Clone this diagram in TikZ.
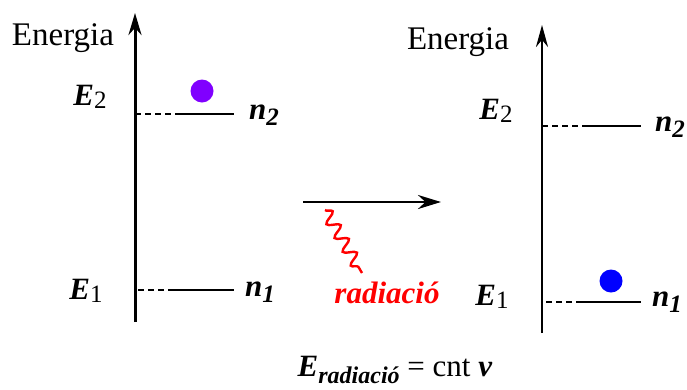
\documentclass[tikz,border=0pt]{standalone}
\usepackage{fontspec}
\setmainfont{Liberation Serif}
\usetikzlibrary{arrows.meta,decorations.pathmorphing}
\definecolor{dotpurple}{RGB}{128,0,255}
\definecolor{dotblue}{RGB}{0,0,255}
\tikzset{
  axis/.style={line width=3pt,-{Stealth[length=22pt,width=13pt]}},
  axisR/.style={line width=2.6pt,-{Stealth[length=22pt,width=12pt]}},
  lvl/.style={line width=1.6pt},
  lvldash/.style={line width=1.6pt,dash pattern=on 6pt off 4pt},
  lbl/.style={font=\fontsize{31}{34}\selectfont,inner sep=0pt},
  en/.style={font=\fontsize{33}{36}\selectfont,inner sep=0pt},
  dotst/.style={circle,inner sep=0pt,minimum size=23pt}
}
\newcommand{\Elab}[1]{\textbf{\textit{E}}\raisebox{-0.25ex}{\fontsize{25}{28}\selectfont #1}}
\newcommand{\nlab}[1]{\textbf{\textit{n}}\raisebox{-0.45ex}{\fontsize{25}{28}\selectfont\textbf{\textit{#1}}}}
\begin{document}
\begin{tikzpicture}[x=1pt,y=-1pt]
\useasboundingbox (0,0) rectangle (687,389);
% left diagram
\coordinate (LA0) at (135,322);
\coordinate (LA1) at (135,13);
\draw[axis] (LA0) -- (LA1);
\node[en] (Len) at (63,38) {Energia};
\node[lbl] (LE2) at (90,97) {\Elab{2}};
\node[lbl] (Ln2) at (264,115) {\nlab{2}};
\coordinate (L2a) at (135,114);
\coordinate (L2b) at (178,114);
\coordinate (L2c) at (234,114);
\draw[lvldash] (L2a) -- (L2b);
\draw[lvl] (L2b) -- (L2c);
\node[dotst,fill=dotpurple] (Ldot) at (202,91) {};
\node[lbl] (LE1) at (86,291) {\Elab{1}};
\node[lbl] (Ln1) at (260,292) {\nlab{1}};
\coordinate (L1a) at (138,290);
\coordinate (L1b) at (170,290);
\coordinate (L1c) at (234,290);
\draw[lvldash] (L1a) -- (L1b);
\draw[lvl] (L1b) -- (L1c);
% middle
\coordinate (M0) at (303,202);
\coordinate (M1) at (441,202);
\draw[line width=2.8pt,-{Stealth[length=23pt,width=14pt]}] (M0) -- (M1);
\coordinate (W0) at (325,210);
\coordinate (W1) at (362,273);
\draw[red,line width=2.4pt,decorate,decoration={snake,segment length=16pt,amplitude=6pt}] (W0) -- (W1);
\node[lbl,text=red] (rad) at (387,293) {\textbf{\textit{radiació}}};
\node[lbl] (form) at (395,370) {\textbf{\textit{E}}\raisebox{-0.45ex}{\fontsize{24}{27}\selectfont\textbf{\textit{radiació}}} = cnt \textbf{\textit{ν}}};
% right diagram
\coordinate (RA0) at (542,333);
\coordinate (RA1) at (542,25);
\draw[axisR] (RA0) -- (RA1);
\node[en] (Ren) at (458,42) {Energia};
\node[lbl] (RE2) at (496,111) {\Elab{2}};
\node[lbl] (Rn2) at (670,127) {\nlab{2}};
\coordinate (R2a) at (542,126);
\coordinate (R2b) at (585,126);
\coordinate (R2c) at (641,126);
\draw[lvldash] (R2a) -- (R2b);
\draw[lvl] (R2b) -- (R2c);
\node[dotst,fill=dotblue] (Rdot) at (611,281) {};
\node[lbl] (RE1) at (492,297) {\Elab{1}};
\node[lbl] (Rn1) at (667,302) {\nlab{1}};
\coordinate (R1a) at (546,302);
\coordinate (R1b) at (582,302);
\coordinate (R1c) at (641,302);
\draw[lvldash] (R1a) -- (R1b);
\draw[lvl] (R1b) -- (R1c);
\end{tikzpicture}
\end{document}
